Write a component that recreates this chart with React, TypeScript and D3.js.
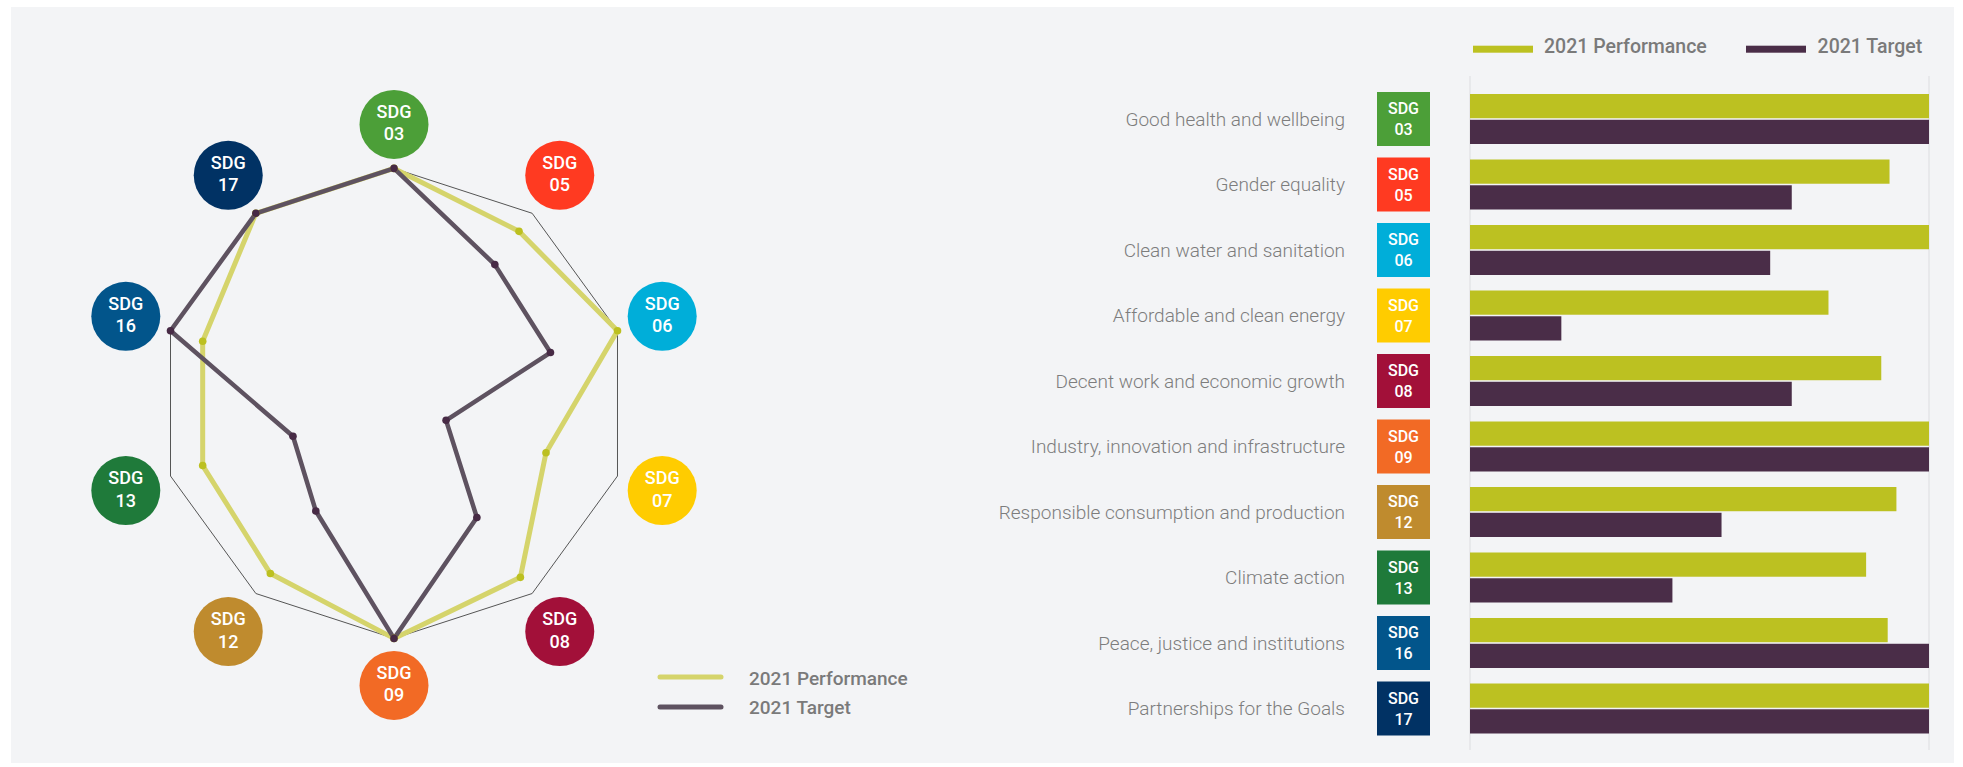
import React, { useEffect } from "react";
import * as d3 from "d3";

// ---------- DATA ----------
const radarAxes = ["03", "05", "06", "07", "08", "09", "12", "13", "16", "17"];
const radarPerformance = [1.0, 0.905, 1.0, 0.68, 0.915, 1.0, 0.895, 0.856, 0.856, 1.0];
const radarTarget = [1.0, 0.73, 0.7, 0.233, 0.6, 1.0, 0.566, 0.452, 1.0, 1.0];

const barCategories = [
  "Good health and wellbeing",
  "Gender equality",
  "Clean water and sanitation",
  "Affordable and clean energy",
  "Decent work and economic growth",
  "Industry, innovation and infrastructure",
  "Responsible consumption and production",
  "Climate action",
  "Peace, justice and institutions",
  "Partnerships for the Goals",
];
const barSdg = ["03", "05", "06", "07", "08", "09", "12", "13", "16", "17"];
const barPerformance = [1.0, 0.914, 1.0, 0.781, 0.896, 1.0, 0.929, 0.863, 0.91, 1.0];
const barTarget = [1.0, 0.701, 0.654, 0.199, 0.701, 1.0, 0.548, 0.441, 1.0, 1.0];

const seriesNames = ["2021 Performance", "2021 Target"];

const sdgColors: Record<string, string> = {
  "03": "#4c9f38",
  "05": "#ff3a21",
  "06": "#00aed9",
  "07": "#ffcc00",
  "08": "#a21039",
  "09": "#f26a25",
  "12": "#bf8b2e",
  "13": "#1f7a3a",
  "16": "#02558b",
  "17": "#013264",
};

// ---------- STYLE ----------
const FONT = "Roboto, 'Open Sans', sans-serif";
const PERF_LINE = "#d5d46b";
const PERF_DOT = "#bcc020";
const TGT_LINE = "#5e5260";
const TGT_DOT = "#472a45";
const PERF_BAR = "#bcc121";
const TGT_BAR = "#4a2d48";
const TEXT_GRAY = "#7a7a7a";

export default function App() {
  useEffect(() => {
    document.body.style.margin = "0";
  }, []);

  const W = 1963;
  const H = 767;

  // Radar
  const cx = 394;
  const cy = 403.4;
  const R = 235;
  const n = radarAxes.length;
  const angle = d3.scaleLinear().domain([0, n]).range([0, 2 * Math.PI]);
  const rScale = d3.scaleLinear().domain([0, 1]).range([0, R]);
  const radial = d3
    .lineRadial<number>()
    .angle((_, i) => angle(i))
    .radius((d) => rScale(d))
    .curve(d3.curveLinearClosed);
  const pt = (i: number, v: number) => {
    const a = angle(i);
    return [Math.sin(a) * rScale(v), -Math.cos(a) * rScale(v)];
  };
  const outer = radarAxes.map(() => 1);
  const badgeR = 282;

  // Bars
  const x = d3.scaleLinear().domain([0, 1]).range([1470, 1929]);
  const y = d3.scaleBand<string>().domain(barCategories).range([86.25, 741.25]).padding(0);
  const sub = d3
    .scaleBand<string>()
    .domain(seriesNames)
    .range([y.bandwidth() / 2 - 25, y.bandwidth() / 2 + 25])
    .paddingInner(0.06);

  return (
    <div style={{ position: "absolute", left: 0, top: 0 }}>
      <svg width={W} height={H} style={{ display: "block", fontFamily: FONT }}>
        <rect x={0} y={0} width={W} height={H} fill="#ffffff" />
        <rect x={11} y={7} width={1943} height={756} fill="#f3f4f6" />

        {/* ---------- RADAR ---------- */}
        <g transform={`translate(${cx},${cy})`}>
          <path d={radial(outer) || ""} fill="none" stroke="#555" strokeWidth={1} />
          <path
            d={radial(radarPerformance) || ""}
            fill="none"
            stroke={PERF_LINE}
            strokeWidth={5}
            strokeLinejoin="round"
          />
          <path
            d={radial(radarTarget) || ""}
            fill="none"
            stroke={TGT_LINE}
            strokeWidth={4.5}
            strokeLinejoin="round"
          />
          {radarPerformance.map((v, i) => {
            const [px, py] = pt(i, v);
            return <circle key={"pd" + i} cx={px} cy={py} r={3.8} fill={PERF_DOT} />;
          })}
          {radarTarget.map((v, i) => {
            const [px, py] = pt(i, v);
            return <circle key={"td" + i} cx={px} cy={py} r={3.8} fill={TGT_DOT} />;
          })}
          {radarAxes.map((s, i) => {
            const a = angle(i);
            const br = i === 0 ? 279 : badgeR;
            const bx = Math.sin(a) * br;
            const by = -Math.cos(a) * br;
            return (
              <g key={"b" + s} transform={`translate(${bx},${by})`}>
                <circle r={34.5} fill={sdgColors[s]} />
                <text y={-6.5} textAnchor="middle" fill="#fff" fontSize={18} fontWeight={500}>
                  SDG
                </text>
                <text y={16} textAnchor="middle" fill="#fff" fontSize={18} fontWeight={500}>
                  {s}
                </text>
              </g>
            );
          })}
        </g>

        {/* radar legend */}
        <g>
          <line x1={660} x2={721} y1={677} y2={677} stroke={PERF_LINE} strokeWidth={5} strokeLinecap="round" />
          <line x1={660} x2={721} y1={707} y2={707} stroke={TGT_LINE} strokeWidth={5} strokeLinecap="round" />
          <text x={749} y={685} fontSize={19} fontWeight={500} fill={TEXT_GRAY}>
            {seriesNames[0]}
          </text>
          <text x={749} y={714} fontSize={19} fontWeight={500} fill={TEXT_GRAY}>
            {seriesNames[1]}
          </text>
        </g>

        {/* ---------- BAR CHART ---------- */}
        <g>
          <rect x={1473} y={45.7} width={60} height={7} fill={PERF_BAR} />
          <text x={1544} y={53.3} fontSize={19.5} fontWeight={500} fill={TEXT_GRAY}>
            {seriesNames[0]}
          </text>
          <rect x={1746} y={45.7} width={60} height={7} fill={TGT_BAR} />
          <text x={1817.6} y={53.3} fontSize={19.5} fontWeight={500} fill={TEXT_GRAY}>
            {seriesNames[1]}
          </text>
        </g>

        {[0, 1].map((t) => (
          <line key={"g" + t} x1={x(t)} x2={x(t)} y1={76} y2={750} stroke="#dcdde0" strokeWidth={1} />
        ))}

        {barCategories.map((c, i) => {
          const y0 = y(c) || 0;
          const mid = y0 + y.bandwidth() / 2;
          const s = barSdg[i];
          return (
            <g key={"row" + i}>
              <text
                x={1345}
                y={mid}
                dy="0.35em"
                textAnchor="end"
                fontSize={19}
                fontWeight={300}
                fill="#7d7d7d"
              >
                {c}
              </text>
              <rect x={1377} y={mid - 27} width={53} height={54} fill={sdgColors[s]} />
              <text x={1403.5} y={mid - 5} textAnchor="middle" fill="#fff" fontSize={16} fontWeight={500}>
                SDG
              </text>
              <text x={1403.5} y={mid + 16} textAnchor="middle" fill="#fff" fontSize={16} fontWeight={500}>
                {s}
              </text>
              <rect
                x={x(0)}
                y={y0 + (sub(seriesNames[0]) || 0)}
                width={x(barPerformance[i]) - x(0)}
                height={sub.bandwidth()}
                fill={PERF_BAR}
              />
              <rect
                x={x(0)}
                y={y0 + (sub(seriesNames[1]) || 0)}
                width={x(barTarget[i]) - x(0)}
                height={sub.bandwidth()}
                fill={TGT_BAR}
              />
            </g>
          );
        })}
      </svg>
    </div>
  );
}
